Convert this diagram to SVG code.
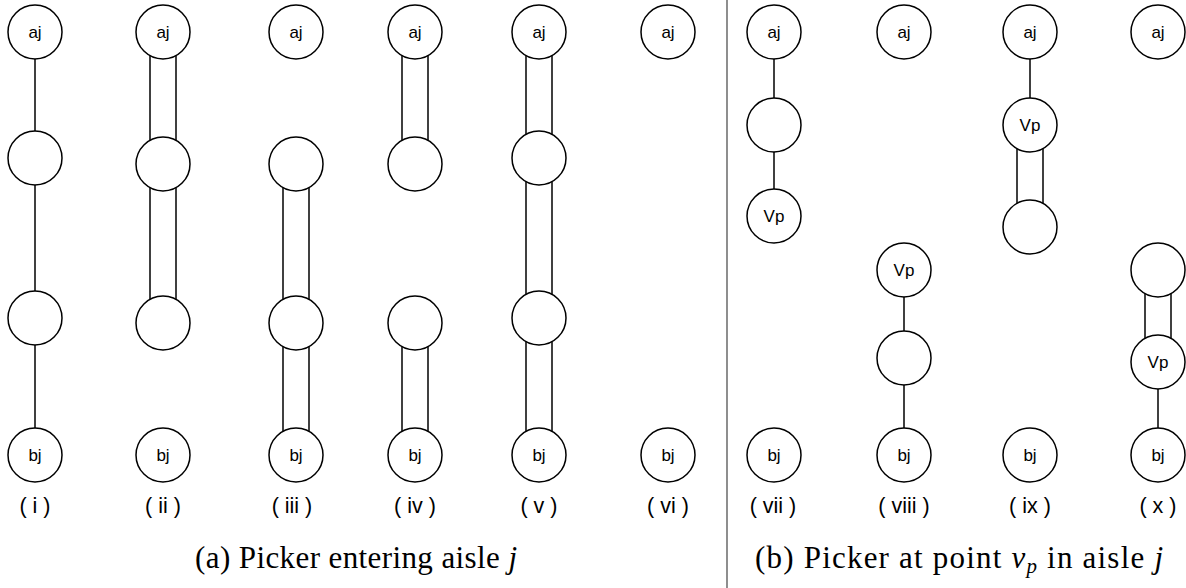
<svg xmlns="http://www.w3.org/2000/svg" width="1186" height="588" viewBox="0 0 1186 588">
  <style>
    .node circle { fill: #fff; stroke: #000; stroke-width: 1.5; }
    .node text { font-family: "Liberation Sans", Arial, sans-serif; font-size: 17px; text-anchor: middle; dominant-baseline: central; fill: #000; }
    .edges line { stroke: #000; stroke-width: 1.5; }
    .lbl { font-family: "Liberation Sans", Arial, sans-serif; font-size: 21.5px; text-anchor: middle; fill: #000; }
    .cap { font-family: "Liberation Serif", "Times New Roman", serif; font-size: 31px; fill: #000; }
  </style>
  <rect width="1186" height="588" fill="#fff"/>

  <!-- section divider -->
  <line x1="727" y1="0" x2="727" y2="588" stroke="#444" stroke-width="1.2"/>

  <!-- connectors (drawn under the nodes) -->
  <g id="connectors" class="edges">
    <!-- (i) single edges -->
    <line x1="35" y1="32" x2="35" y2="158"/>
    <line x1="35" y1="158" x2="35" y2="318"/>
    <line x1="35" y1="318" x2="35" y2="455"/>
    <!-- (ii) doubled -->
    <line x1="150" y1="32" x2="150" y2="164"/><line x1="176" y1="32" x2="176" y2="164"/>
    <line x1="150" y1="164" x2="150" y2="323"/><line x1="176" y1="164" x2="176" y2="323"/>
    <!-- (iii) doubled -->
    <line x1="283" y1="164" x2="283" y2="323"/><line x1="309" y1="164" x2="309" y2="323"/>
    <line x1="283" y1="323" x2="283" y2="455"/><line x1="309" y1="323" x2="309" y2="455"/>
    <!-- (iv) doubled -->
    <line x1="402" y1="32" x2="402" y2="164"/><line x1="428" y1="32" x2="428" y2="164"/>
    <line x1="402" y1="323" x2="402" y2="455"/><line x1="428" y1="323" x2="428" y2="455"/>
    <!-- (v) doubled -->
    <line x1="526" y1="32" x2="526" y2="158"/><line x1="552" y1="32" x2="552" y2="158"/>
    <line x1="526" y1="158" x2="526" y2="318"/><line x1="552" y1="158" x2="552" y2="318"/>
    <line x1="526" y1="318" x2="526" y2="455"/><line x1="552" y1="318" x2="552" y2="455"/>
    <!-- (vii) single -->
    <line x1="774" y1="32" x2="774" y2="125"/>
    <line x1="774" y1="125" x2="774" y2="216"/>
    <!-- (viii) single -->
    <line x1="904" y1="270" x2="904" y2="358"/>
    <line x1="904" y1="358" x2="904" y2="455"/>
    <!-- (ix) -->
    <line x1="1030" y1="32" x2="1030" y2="125"/>
    <line x1="1017" y1="125" x2="1017" y2="227"/><line x1="1043" y1="125" x2="1043" y2="227"/>
    <!-- (x) -->
    <line x1="1145" y1="270" x2="1145" y2="362"/><line x1="1171" y1="270" x2="1171" y2="362"/>
    <line x1="1158" y1="362" x2="1158" y2="455"/>
  </g>

  <!-- (i) -->
  <g id="n-i-a" class="node"><circle cx="35" cy="32" r="27"/><text x="35" y="32">aj</text></g>
  <g id="n-i-1" class="node"><circle cx="35" cy="158" r="27"/></g>
  <g id="n-i-2" class="node"><circle cx="35" cy="318" r="27"/></g>
  <g id="n-i-b" class="node"><circle cx="35" cy="455" r="27"/><text x="35" y="455">bj</text></g>

  <!-- (ii) -->
  <g id="n-ii-a" class="node"><circle cx="163" cy="32" r="27"/><text x="163" y="32">aj</text></g>
  <g id="n-ii-1" class="node"><circle cx="163" cy="164" r="27"/></g>
  <g id="n-ii-2" class="node"><circle cx="163" cy="323" r="27"/></g>
  <g id="n-ii-b" class="node"><circle cx="163" cy="455" r="27"/><text x="163" y="455">bj</text></g>

  <!-- (iii) -->
  <g id="n-iii-a" class="node"><circle cx="296" cy="32" r="27"/><text x="296" y="32">aj</text></g>
  <g id="n-iii-1" class="node"><circle cx="296" cy="164" r="27"/></g>
  <g id="n-iii-2" class="node"><circle cx="296" cy="323" r="27"/></g>
  <g id="n-iii-b" class="node"><circle cx="296" cy="455" r="27"/><text x="296" y="455">bj</text></g>

  <!-- (iv) -->
  <g id="n-iv-a" class="node"><circle cx="415" cy="32" r="27"/><text x="415" y="32">aj</text></g>
  <g id="n-iv-1" class="node"><circle cx="415" cy="164" r="27"/></g>
  <g id="n-iv-2" class="node"><circle cx="415" cy="323" r="27"/></g>
  <g id="n-iv-b" class="node"><circle cx="415" cy="455" r="27"/><text x="415" y="455">bj</text></g>

  <!-- (v) -->
  <g id="n-v-a" class="node"><circle cx="539" cy="32" r="27"/><text x="539" y="32">aj</text></g>
  <g id="n-v-1" class="node"><circle cx="539" cy="158" r="27"/></g>
  <g id="n-v-2" class="node"><circle cx="539" cy="318" r="27"/></g>
  <g id="n-v-b" class="node"><circle cx="539" cy="455" r="27"/><text x="539" y="455">bj</text></g>

  <!-- (vi) -->
  <g id="n-vi-a" class="node"><circle cx="668" cy="32" r="27"/><text x="668" y="32">aj</text></g>
  <g id="n-vi-b" class="node"><circle cx="668" cy="455" r="27"/><text x="668" y="455">bj</text></g>

  <!-- (vii) -->
  <g id="n-vii-a" class="node"><circle cx="774" cy="32" r="27"/><text x="774" y="32">aj</text></g>
  <g id="n-vii-1" class="node"><circle cx="774" cy="125" r="27"/></g>
  <g id="n-vii-v" class="node"><circle cx="774" cy="216" r="27"/><text x="774" y="216">Vp</text></g>
  <g id="n-vii-b" class="node"><circle cx="774" cy="455" r="27"/><text x="774" y="455">bj</text></g>

  <!-- (viii) -->
  <g id="n-viii-a" class="node"><circle cx="904" cy="32" r="27"/><text x="904" y="32">aj</text></g>
  <g id="n-viii-v" class="node"><circle cx="904" cy="270" r="27"/><text x="904" y="270">Vp</text></g>
  <g id="n-viii-1" class="node"><circle cx="904" cy="358" r="27"/></g>
  <g id="n-viii-b" class="node"><circle cx="904" cy="455" r="27"/><text x="904" y="455">bj</text></g>

  <!-- (ix) -->
  <g id="n-ix-a" class="node"><circle cx="1030" cy="32" r="27"/><text x="1030" y="32">aj</text></g>
  <g id="n-ix-v" class="node"><circle cx="1030" cy="125" r="27"/><text x="1030" y="125">Vp</text></g>
  <g id="n-ix-1" class="node"><circle cx="1030" cy="227" r="27"/></g>
  <g id="n-ix-b" class="node"><circle cx="1030" cy="455" r="27"/><text x="1030" y="455">bj</text></g>

  <!-- (x) -->
  <g id="n-x-a" class="node"><circle cx="1158" cy="32" r="27"/><text x="1158" y="32">aj</text></g>
  <g id="n-x-1" class="node"><circle cx="1158" cy="270" r="27"/></g>
  <g id="n-x-v" class="node"><circle cx="1158" cy="362" r="27"/><text x="1158" y="362">Vp</text></g>
  <g id="n-x-b" class="node"><circle cx="1158" cy="455" r="27"/><text x="1158" y="455">bj</text></g>

  <!-- column labels -->
  <g id="labels">
    <text class="lbl" x="35" y="513">( i )</text>
    <text class="lbl" x="163" y="513">( ii )</text>
    <text class="lbl" x="292" y="513">( iii )</text>
    <text class="lbl" x="415" y="513">( iv )</text>
    <text class="lbl" x="539" y="513">( v )</text>
    <text class="lbl" x="668" y="513">( vi )</text>
    <text class="lbl" x="773" y="513">( vii )</text>
    <text class="lbl" x="904" y="513">( viii )</text>
    <text class="lbl" x="1030" y="513">( ix )</text>
    <text class="lbl" x="1158" y="513">( x )</text>
  </g>

  <!-- sub-figure captions -->
  <g id="captions">
    <text class="cap" x="195" y="568" textLength="322" lengthAdjust="spacing">(a) Picker entering aisle <tspan font-style="italic">j</tspan></text>
    <text class="cap" x="755" y="568" textLength="408" lengthAdjust="spacing">(b) Picker at point <tspan font-style="italic">v</tspan><tspan font-style="italic" font-size="21" dy="5">p</tspan><tspan dy="-5"> in aisle </tspan><tspan font-style="italic">j</tspan></text>
  </g>
</svg>
